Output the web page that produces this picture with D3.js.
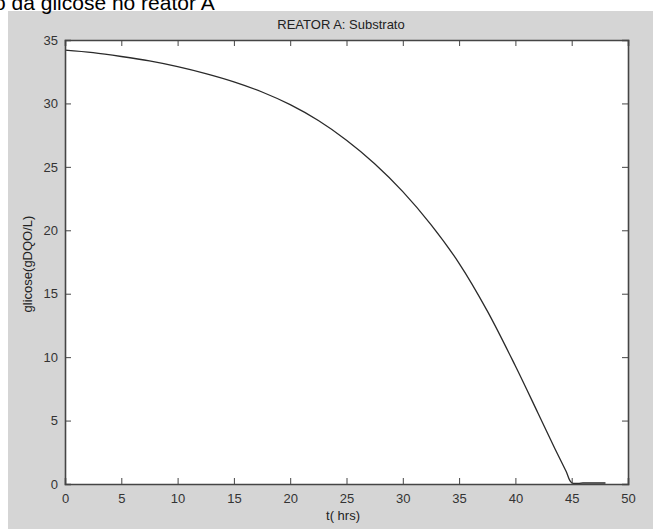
<!DOCTYPE html>
<html>
<head>
<meta charset="utf-8">
<script src="https://cdn.jsdelivr.net/npm/d3@7"></script>
<style>
  html, body { margin: 0; padding: 0; background: #ffffff; }
  svg { display: block; }
</style>
</head>
<body>
<svg id="chart" width="653" height="529"></svg>
<script>
// ---- data ----
const timeHrs = [0, 2.5, 5, 7.5, 10, 12.5, 15, 17.5, 20, 22.5, 25, 27.5, 30, 32.5, 35, 37.5, 40, 42, 43.5, 44.5, 45, 46, 47, 48];
const glucose = [34.2, 34.0, 33.7, 33.35, 32.9, 32.35, 31.7, 30.9, 29.9, 28.65, 27.1, 25.25, 23.05, 20.45, 17.4, 13.65, 9.3, 5.6, 2.8, 1.0, 0.1, 0.08, 0.08, 0.08];
const xTicks = [0, 5, 10, 15, 20, 25, 30, 35, 40, 45, 50];
const yTicks = [0, 5, 10, 15, 20, 25, 30, 35];
const titleText = "REATOR A: Substrato";
const xLabel = "t( hrs)";
const yLabel = "glicose(gDQO/L)";
const captionText = "o da glicose no reator A";

const svg = d3.select("#chart");
const W = 653, H = 529;
const plot = { left: 65, right: 628, top: 40, bottom: 484 };

// figure background
svg.append("rect").attr("x", 8).attr("y", 11).attr("width", W - 8).attr("height", H - 11).attr("fill", "#d5d5d5");

// caption (cropped text from the document, as in the reference)
svg.append("text").attr("x", -6).attr("y", 9.5)
  .attr("font-family", "Liberation Sans, Arial, sans-serif").attr("font-size", 21)
  .attr("fill", "#000").text(captionText);

// axes area
svg.append("rect").attr("x", plot.left).attr("y", plot.top)
  .attr("width", plot.right - plot.left).attr("height", plot.bottom - plot.top)
  .attr("fill", "#ffffff");

const x = d3.scaleLinear().domain([0, 50]).range([plot.left, plot.right]);
const y = d3.scaleLinear().domain([0, 35]).range([plot.bottom, plot.top]);

const axisColor = "#454545";
const font = "Liberation Sans, Arial, sans-serif";

// curve
const line = d3.line().x((d, i) => x(timeHrs[i])).y(d => Math.min(y(d), plot.bottom)).curve(d3.curveCatmullRom.alpha(0.5));
svg.append("path").datum(glucose).attr("d", line)
  .attr("fill", "none").attr("stroke", "#2a2a2a").attr("stroke-width", 1.3);

// axes with inward ticks on all sides
const tickLen = 6;
const gB = svg.append("g").attr("transform", `translate(0,${plot.bottom})`)
  .call(d3.axisBottom(x).tickValues(xTicks).tickSize(-tickLen).tickPadding(10).tickFormat(d3.format("d")));
const gT = svg.append("g").attr("transform", `translate(0,${plot.top})`)
  .call(d3.axisTop(x).tickValues(xTicks).tickSize(-tickLen).tickFormat(""));
const gL = svg.append("g").attr("transform", `translate(${plot.left},0)`)
  .call(d3.axisLeft(y).tickValues(yTicks).tickSize(-tickLen).tickPadding(7).tickFormat(d3.format("d")));
const gR = svg.append("g").attr("transform", `translate(${plot.right},0)`)
  .call(d3.axisRight(y).tickValues(yTicks).tickSize(-tickLen).tickFormat(""));

[gB, gT, gL, gR].forEach(g => {
  g.select(".domain").attr("stroke", axisColor).attr("stroke-width", 1.6);
  g.selectAll(".tick line").attr("stroke", axisColor).attr("stroke-width", 1);
  g.selectAll(".tick text").attr("fill", "#333").attr("font-family", font).attr("font-size", 13);
});
gB.selectAll(".tick text").attr("dy", "0.71em");

// title
svg.append("text").attr("x", 341).attr("y", 29).attr("text-anchor", "middle")
  .attr("font-family", font).attr("font-size", 13).attr("fill", "#222").text(titleText);

// x label
svg.append("text").attr("x", 343).attr("y", 520).attr("text-anchor", "middle")
  .attr("font-family", font).attr("font-size", 13).attr("fill", "#222").text(xLabel);

// y label
svg.append("text").attr("transform", `translate(32,264) rotate(-90)`).attr("text-anchor", "middle")
  .attr("font-family", font).attr("font-size", 13).attr("fill", "#222").text(yLabel);
</script>
</body>
</html>
